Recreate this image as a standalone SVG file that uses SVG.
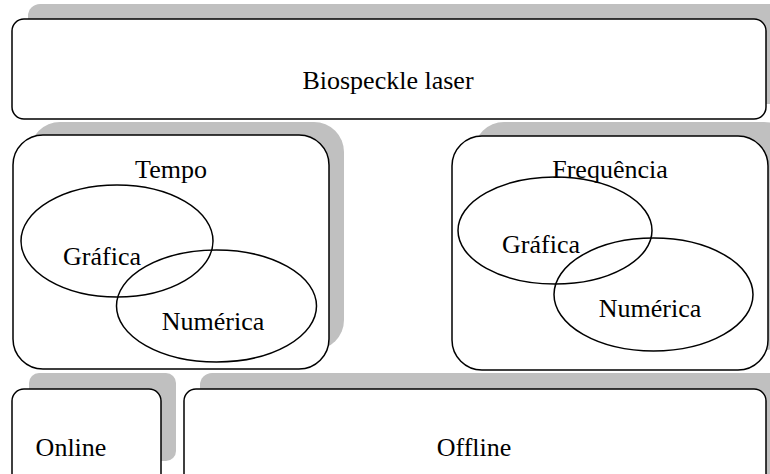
<svg xmlns="http://www.w3.org/2000/svg" width="770" height="474" viewBox="0 0 770 474" font-family="Liberation Serif, Times New Roman, DejaVu Serif, serif">
<style>
.sh{fill:#c0c0c0;stroke:none}
.bx{fill:#fff;stroke:#000;stroke-width:1.5}
.el{fill:none;stroke:#000;stroke-width:1.5}
text{font-size:26px;fill:#000;text-anchor:middle}
</style>
<rect width="770" height="474" fill="#fff"/>
<g id="biospeckle">
<rect class="sh" x="28" y="4" width="760" height="100" rx="12"/>
<rect class="bx" x="12" y="19" width="754" height="100" rx="12"/>
<text x="388" y="89">Biospeckle laser</text>
</g>
<g id="tempo">
<rect class="sh" x="30" y="122" width="314" height="228" rx="30"/>
<rect class="bx" x="13" y="135" width="316" height="234" rx="30"/>
<text x="171" y="178">Tempo</text>
</g>
<g id="tempo-grafica">
<ellipse class="el" cx="117" cy="241" rx="96" ry="56"/>
<text x="102" y="265">Gráfica</text>
</g>
<g id="tempo-numerica">
<ellipse class="el" cx="216.5" cy="306" rx="100" ry="56"/>
<text x="213" y="330">Numérica</text>
</g>
<g id="frequencia">
<rect class="sh" x="474" y="122" width="320" height="228" rx="30"/>
<rect class="bx" x="452" y="136" width="316" height="234" rx="30"/>
<text x="610" y="178">Frequência</text>
</g>
<g id="freq-grafica">
<ellipse class="el" cx="555" cy="230.5" rx="97" ry="53.5"/>
<text x="541" y="253">Gráfica</text>
</g>
<g id="freq-numerica">
<ellipse class="el" cx="653.5" cy="294.5" rx="99.5" ry="56.5"/>
<text x="650" y="317">Numérica</text>
</g>
<g id="online">
<rect class="sh" x="29" y="373" width="147" height="88" rx="10"/>
<rect class="bx" x="12" y="389" width="149" height="110" rx="12"/>
<text x="71" y="456">Online</text>
</g>
<g id="offline">
<rect class="sh" x="200" y="373" width="590" height="120" rx="12"/>
<rect class="bx" x="184" y="389" width="582" height="110" rx="12"/>
<text x="474" y="456">Offline</text>
</g>
<g id="connectors"></g>
</svg>
